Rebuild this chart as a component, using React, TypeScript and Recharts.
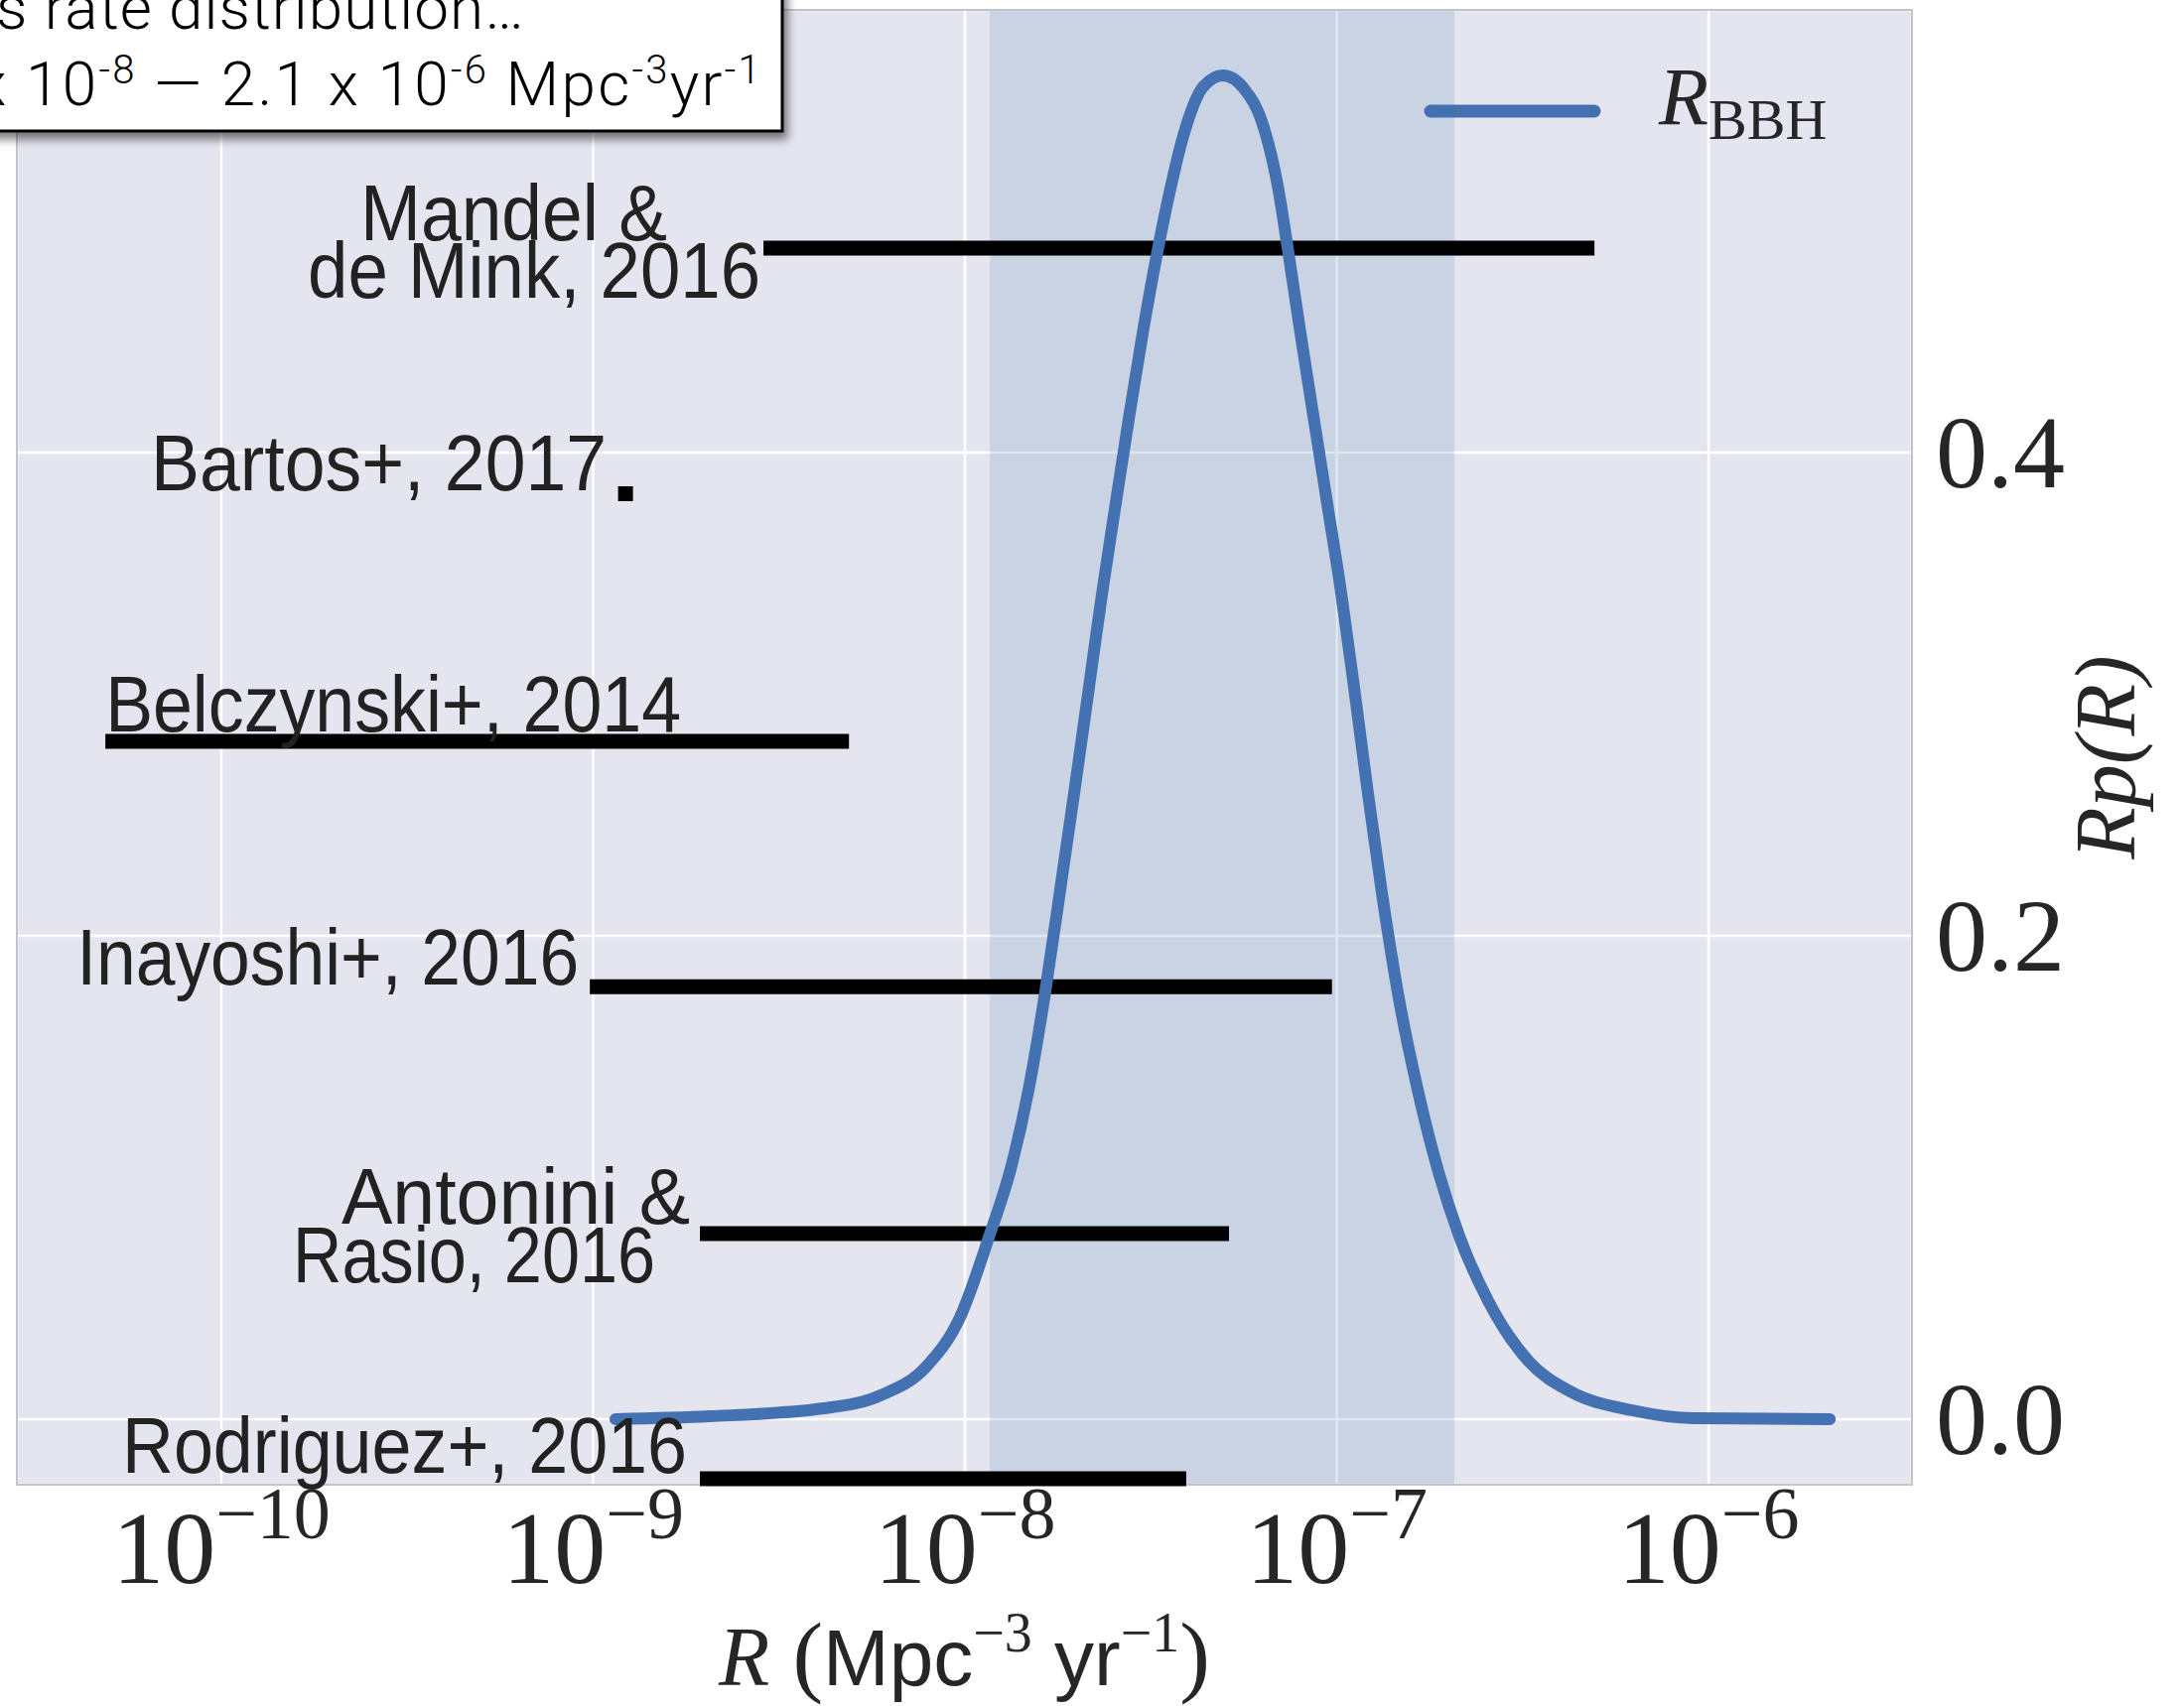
import type { ReactElement } from 'react';
import {
  CartesianGrid,
  ComposedChart,
  Label,
  LabelList,
  Legend,
  Line,
  ReferenceArea,
  Scatter,
  XAxis,
  YAxis,
} from 'recharts';

const CHART_W = 2200;
const CHART_H = 1719;

// Posterior on the BBH merger rate: log10 R (Mpc^-3 yr^-1) and R p(R) at that R
const curveLogR = [
  -8.94, -8.686, -8.379, -8.227, -8.104, -8.013, -7.936, -7.875, -7.829, -7.784, -7.744,
  -7.706, -7.666, -7.632, -7.599, -7.559, -7.522, -7.482, -7.45, -7.413, -7.359, -7.306,
  -7.25, -7.196, -7.159, -7.132, -7.1, -7.063, -7.025, -6.988, -6.951, -6.916, -6.879,
  -6.833, -6.782, -6.726, -6.67, -6.593, -6.483, -6.371, -6.206, -6.04, -5.674,
];
const curveRp = [
  0, 0.0012, 0.0045, 0.0099, 0.0218, 0.0423, 0.0752, 0.1048, 0.1363, 0.177, 0.219,
  0.2595, 0.3035, 0.341, 0.3745, 0.4145, 0.4495, 0.4835, 0.5075, 0.531, 0.5515, 0.5561,
  0.5507, 0.5343, 0.5105, 0.4846, 0.4517, 0.4152, 0.3782, 0.3417, 0.2998, 0.2587, 0.2181,
  0.174, 0.136, 0.102, 0.0755, 0.049, 0.0238, 0.0114, 0.0037, 0.0004, 0,
];

// credible interval shaded behind the curve (log10 R)
const bandLow = -7.933;
const bandHigh = -6.684;

// literature predictions: log10 R range and the row each one sits on
const studyText = [
  ['Mandel &', 'de Mink, 2016'],
  ['Belczynski+, 2014'],
  ['Inayoshi+, 2016'],
  ['Antonini &', 'Rasio, 2016'],
  ['Rodriguez+, 2016'],
];
const studyLow = [-8.542, -10.312, -9.009, -8.713, -8.713];
const studyHigh = [-6.307, -8.312, -7.013, -7.29, -7.405];
const studyRow = [0.4846, 0.2805, 0.179, 0.0768, -0.0246];

// single-valued prediction
const bartosText = ['Bartos+, 2017'];
const bartosLogR = -8.913;
const bartosRow = 0.383;

const xTicks = [-10, -9, -8, -7, -6];
const yTicks = [0, 0.2, 0.4];
const xDomain: [number, number] = [-10.55, -5.453];
const yDomain: [number, number] = [-0.0271, 0.5832];

const curveName = 'RBBH';
const curveColor = '#4471B2';

const mathFont = "'Liberation Serif', 'DejaVu Serif', serif";
const labelFont = "'Liberation Sans Narrow', 'Liberation Sans', Arial, sans-serif";
const noteFont = "Roboto, 'Liberation Sans', Arial, sans-serif";

type LineLayout = { anchor: 'start' | 'end'; dx: number; dy: number; length: number };

// where each label line sits relative to the left end of its bar
const studyLayout: LineLayout[][] = [
  [
    { anchor: 'end', dx: -97, dy: -8, length: 309 },
    { anchor: 'end', dx: -3, dy: 50, length: 456 },
  ],
  [{ anchor: 'start', dx: 0, dy: -10, length: 580 }],
  [{ anchor: 'end', dx: -11, dy: -2, length: 506 }],
  [
    { anchor: 'end', dx: -10, dy: -10, length: 351 },
    { anchor: 'end', dx: -45, dy: 49, length: 365 },
  ],
  [{ anchor: 'end', dx: -13, dy: -6, length: 569 }],
];
const bartosLayout: LineLayout[] = [{ anchor: 'end', dx: -19, dy: -3, length: 459 }];

function LabelLines({ x, y, lines, layout }: { x: number; y: number; lines: string[]; layout: LineLayout[] }) {
  return (
    <g>
      {lines.map((t, i) => (
        <text
          key={t}
          x={x + layout[i].dx}
          y={y + layout[i].dy}
          textAnchor={layout[i].anchor}
          textLength={layout[i].length}
          lengthAdjust="spacingAndGlyphs"
          fontFamily={labelFont}
          fontSize={80}
          fill="#222"
        >
          {t}
        </text>
      ))}
    </g>
  );
}

function renderStudyLabel(props: any) {
  if (props.value == null) return null;
  const i = Number(props.value);
  const x = props.viewBox?.x ?? props.x;
  const y = props.viewBox?.y ?? props.y;
  return <LabelLines x={x} y={y} lines={studyText[i]} layout={studyLayout[i]} />;
}

function BartosMark(props: any) {
  const { cx, cy } = props;
  return (
    <g>
      <rect x={cx - 7.5} y={cy - 7.5} width={15} height={15} fill="#000" />
      <LabelLines x={cx} y={cy} lines={bartosText} layout={bartosLayout} />
    </g>
  );
}

function renderXTick(props: any) {
  const { x, y, payload } = props;
  return (
    <text x={x} y={y + 99} textAnchor="middle" fontFamily={mathFont} fill="#262626">
      <tspan fontSize={104}>10</tspan>
      <tspan fontSize={74} dy={-45}>{`\u2212${Math.abs(payload.value)}`}</tspan>
    </text>
  );
}

function renderYTick(props: any) {
  const { x, y, payload } = props;
  return (
    <text x={x} y={y + 35} textAnchor="start" fontFamily={mathFont} fontSize={104} fill="#262626">
      {Number(payload.value).toFixed(1)}
    </text>
  );
}

function renderXTitle(props: any) {
  const vb = props.viewBox ?? { x: 17, y: 1496, width: 1909, height: 223 };
  const cx = vb.x + vb.width / 2;
  return (
    <text x={cx} y={vb.y + 202} textAnchor="middle" fill="#262626" fontSize={80}>
      <tspan fontFamily={mathFont} fontStyle="italic" fontSize={84}>R</tspan>
      <tspan fontFamily={mathFont} fontSize={92}> (</tspan>
      <tspan fontFamily={labelFont}>Mpc</tspan>
      <tspan fontFamily={mathFont} fontSize={56} dy={-34}>{'\u22123'}</tspan>
      <tspan fontFamily={labelFont} dy={34}> yr</tspan>
      <tspan fontFamily={mathFont} fontSize={56} dy={-34}>{'\u22121'}</tspan>
      <tspan fontFamily={mathFont} fontSize={92} dy={34}>)</tspan>
    </text>
  );
}

function renderYTitle(props: any) {
  const vb = props.viewBox ?? { x: 1926, y: 10, width: 274, height: 1486 };
  const x = vb.x + 224;
  const y = vb.y + vb.height / 2 + 10;
  return (
    <text
      x={x}
      y={y}
      transform={`rotate(-90 ${x} ${y})`}
      textAnchor="middle"
      fontFamily={mathFont}
      fontStyle="italic"
      fontSize={86}
      fill="#262626"
    >
      Rp(R)
    </text>
  );
}

function renderLegend(props: any) {
  const item = (props.payload ?? []).find((p: any) => p.value === curveName);
  const color = item?.color ?? curveColor;
  return (
    <svg width={460} height={110}>
      <line x1={21} x2={186} y1={62} y2={62} stroke={color} strokeWidth={13} strokeLinecap="round" />
      <text x={251} y={75} fontFamily={mathFont} fill="#262626">
        <tspan fontStyle="italic" fontSize={82}>R</tspan>
        <tspan fontSize={58} dy={15}>BBH</tspan>
      </text>
    </svg>
  );
}

export default function App(): ReactElement {
  const curveData = curveLogR.map((x, i) => ({ x, rp: curveRp[i] }));

  return (
    <div style={{ position: 'absolute', left: 0, top: 0, width: CHART_W, height: CHART_H, background: '#fff' }}>
      <ComposedChart width={CHART_W} height={CHART_H} margin={{ top: 10, right: 0, bottom: 0, left: 17 }}>
        <CartesianGrid stroke="#ffffff" strokeWidth={2.5} fill="#E5E5EF" fillOpacity={1} />
        <XAxis
          type="number"
          dataKey="x"
          domain={xDomain}
          ticks={xTicks}
          interval={0}
          height={223}
          axisLine={false}
          tickLine={false}
          tickSize={0}
          tickMargin={0}
          tick={renderXTick}
        >
          <Label content={renderXTitle} />
        </XAxis>
        <YAxis
          orientation="right"
          type="number"
          dataKey="y"
          domain={yDomain}
          ticks={yTicks}
          interval={0}
          width={274}
          axisLine={false}
          tickLine={false}
          tickSize={0}
          tickMargin={24}
          tick={renderYTick}
        >
          <Label content={renderYTitle} />
        </YAxis>
        <ReferenceArea x1={bandLow} x2={bandHigh} fill="#5A8AB5" fillOpacity={0.2} stroke="none" />
        <ReferenceArea
          x1={xDomain[0]}
          x2={xDomain[1]}
          y1={yDomain[0]}
          y2={yDomain[1]}
          fill="none"
          stroke="#C3C3CB"
          strokeWidth={2}
        />
        {studyLow.map((lo, i) => (
          <Line
            key={studyText[i].join(' ')}
            data={[
              { x: lo, y: studyRow[i], tag: i },
              { x: studyHigh[i], y: studyRow[i] },
            ]}
            dataKey="y"
            stroke="#000"
            strokeWidth={15}
            strokeLinecap="butt"
            dot={false}
            activeDot={false}
            legendType="none"
            isAnimationActive={false}
          >
            <LabelList dataKey="tag" content={renderStudyLabel} />
          </Line>
        ))}
        <Scatter
          data={[{ x: bartosLogR, y: bartosRow }]}
          shape={BartosMark}
          legendType="none"
          isAnimationActive={false}
        />
        <Line
          data={curveData}
          dataKey="rp"
          name={curveName}
          type="monotone"
          stroke={curveColor}
          strokeWidth={12}
          strokeLinecap="round"
          strokeLinejoin="round"
          dot={false}
          activeDot={false}
          isAnimationActive={false}
        />
        <Legend
          layout="horizontal"
          verticalAlign="middle"
          align="center"
          content={renderLegend}
          wrapperStyle={{ left: 1420, top: 50, width: 460, height: 110 }}
        />
      </ComposedChart>

      {/* callout box in the top-left corner */}
      <svg
        width={CHART_W}
        height={CHART_H}
        style={{ position: 'absolute', left: 0, top: 0, pointerEvents: 'none' }}
      >
        <defs>
          <filter id="noteShadow" x="-10%" y="-30%" width="130%" height="180%">
            <feDropShadow dx={4} dy={7} stdDeviation={5} floodColor="#000" floodOpacity={0.5} />
          </filter>
        </defs>
        <rect x={-20} y={-20} width={808} height={152} fill="#fff" stroke="#000" strokeWidth={3} filter="url(#noteShadow)" />
        <text
          x={-4}
          y={29}
          textLength={532}
          lengthAdjust="spacing"
          fontFamily={noteFont}
          fontWeight={300}
          fontSize={62}
          fill="#000"
        >
          s rate distribution…
        </text>
        <text
          x={768}
          y={106}
          textAnchor="end"
          letterSpacing={2.3}
          fontFamily={noteFont}
          fontWeight={300}
          fontSize={62}
          fill="#000"
        >
          x 10
          <tspan fontSize={40} dy={-22}>-8</tspan>
          <tspan dy={22}> — 2.1 x 10</tspan>
          <tspan fontSize={40} dy={-22}>-6</tspan>
          <tspan dy={22}> Mpc</tspan>
          <tspan fontSize={40} dy={-22}>-3</tspan>
          <tspan dy={22}>yr</tspan>
          <tspan fontSize={40} dy={-22}>-1</tspan>
        </text>
      </svg>
    </div>
  );
}
